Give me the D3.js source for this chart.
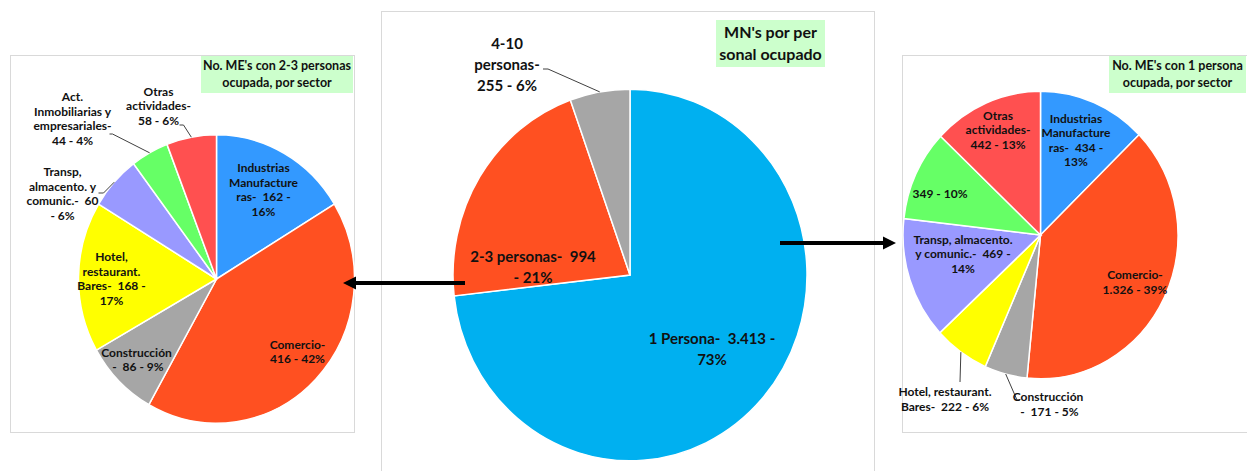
<!DOCTYPE html>
<html>
<head>
<meta charset="utf-8">
<script src="https://cdn.jsdelivr.net/npm/d3@7"></script>
<style>
  body { margin: 0; background: #fff; }
  svg { display: block; }
  text { font-family: Lato, "Open Sans", sans-serif; font-weight: bold; fill: #111; white-space: pre; }
</style>
</head>
<body>
<svg id="chart" width="1247" height="471"></svg>
<script>
// Microempresas (ME) por tamaño de personal ocupado
const sizeCats = ["1 Persona", "2-3 personas", "4-10 personas"];
const sizeValues = [3413, 994, 255];
const sizePct = [73, 21, 6];

// Sectores económicos
const sectors = [
  "Industrias Manufactureras",
  "Comercio",
  "Construcción",
  "Hotel, restaurant. Bares",
  "Transp, almacento. y comunic.",
  "Act. Inmobiliarias y empresariales",
  "Otras actividades"
];
// ME con 2-3 personas ocupadas, por sector
const values23 = [162, 416, 86, 168, 60, 44, 58];
const pct23 = [16, 42, 9, 17, 6, 4, 6];
// ME con 1 persona ocupada, por sector
const values1 = [434, 1326, 171, 222, 469, 349, 442];
const pct1 = [13, 39, 5, 6, 14, 10, 13];

const titleCenter = ["MN's por per", "sonal ocupado"];
const title23 = ["No. ME's con 2-3 personas", "ocupada, por sector"];
const title1 = ["No. ME's con 1 persona", "ocupada, por sector"];

// Number format with "." as thousands separator
const esFmt = d3.formatLocale({ decimal: ",", thousands: ".", grouping: [3], currency: ["", ""] }).format(",d");

const sizeColors = ["#00B0F0", "#FF5021", "#A6A6A6"];
const sectorColors = ["#3399FF", "#FF5021", "#A6A6A6", "#FFFF00", "#9999FF", "#66FF66", "#FF5050"];

// Label text broken into lines the way the data labels wrap
const sizeLines = [
  (v, p) => ["1 Persona-  " + v + " -", p + "%"],
  (v, p) => ["2-3 personas-  " + v, "- " + p + "%"],
  (v, p) => ["4-10", "personas-", v + " - " + p + "%"]
];
const lines23 = [
  (v, p) => ["Industrias", "Manufacture", "ras-  " + v + " -", p + "%"],
  (v, p) => ["Comercio-", v + " - " + p + "%"],
  (v, p) => ["Construcción", " -  " + v + " - " + p + "%"],
  (v, p) => ["Hotel,", "restaurant.", "Bares-  " + v + " -", p + "%"],
  (v, p) => ["Transp,", "almacento. y", "comunic.-  " + v, "- " + p + "%"],
  (v, p) => ["Act.", "Inmobiliarias y", "empresariales-", v + " - " + p + "%"],
  (v, p) => ["Otras", "actividades-", v + " - " + p + "%"]
];
const lines1 = [
  (v, p) => ["Industrias", "Manufacture", "ras-  " + v + " -", p + "%"],
  (v, p) => ["Comercio-", v + " - " + p + "%"],
  (v, p) => ["Construcción", " -  " + v + " - " + p + "%"],
  (v, p) => ["Hotel, restaurant.", "Bares-  " + v + " - " + p + "%"],
  (v, p) => ["Transp, almacento.", "y comunic.-  " + v + " -", p + "%"],
  (v, p) => [v + " - " + p + "%"],
  (v, p) => ["Otras", "actividades-", v + " - " + p + "%"]
];

// Layout: label block centres relative to pie centre, plus leader elbows
const layoutCenter = {
  cx: 630, cy: 275, r: 177, sy: 1.05, font: 15, lh: 21,
  labels: [
    { dx: 82, dy: 74 },
    { dx: -97, dy: -8 },
    { dx: -123, dy: -210, leader: [[-87, -206], [-82, -206]] }
  ]
};
const layout23 = {
  cx: 216.5, cy: 279, r: 138, sy: 1.045, font: 12, lh: 14.5,
  labels: [
    { dx: 47, dy: -89 },
    { dx: 81, dy: 73 },
    { dx: -80, dy: 81 },
    { dx: -105, dy: 0 },
    { dx: -154, dy: -85, leader: [[-118, -86], [-113, -86]] },
    { dx: -144, dy: -160, leader: [[-107, -145], [-104, -145]] },
    { dx: -58, dy: -173, leader: [[-37, -154], [-33, -154]] }
  ]
};
const layout1 = {
  cx: 1040.5, cy: 235, r: 137.5, sy: 1.045, font: 12, lh: 14.5,
  labels: [
    { dx: 35.5, dy: -94.5 },
    { dx: 94.5, dy: 47.5 },
    { dx: 7.5, dy: 169.5, leader: [[-20.5, 165], [-23.5, 165]] },
    { dx: -95.5, dy: 164.5, leader: [[-80.5, 147]] },
    { dx: -77.5, dy: 19 },
    { dx: -100.5, dy: -41 },
    { dx: -42.5, dy: -105 }
  ]
};

const svg = d3.select("#chart");

// Panel frames
function frame(x, y, w, h) {
  svg.append("rect").attr("x", x + 0.5).attr("y", y + 0.5).attr("width", w).attr("height", h)
    .attr("fill", "#fff").attr("stroke", "#D9D9D9").attr("stroke-width", 1);
}
frame(10, 55, 344, 377);
frame(381, 11, 493, 480);
frame(902, 55, 360, 377);

function title(lines, x, y, w, h, size, lh) {
  svg.append("rect").attr("x", x).attr("y", y).attr("width", w).attr("height", h).attr("fill", "#CCFFCC");
  const t = svg.append("text").attr("text-anchor", "middle").style("font-size", size + "px");
  lines.forEach((s, i) => {
    t.append("tspan").attr("x", x + w / 2).attr("y", y + h / 2 + (i - (lines.length - 1) / 2) * lh).attr("dy", "0.35em").text(s);
  });
}

function drawPie(values, pct, colors, lineFns, L) {
  const g = svg.append("g").attr("transform", `translate(${L.cx},${L.cy})`);
  const arcs = d3.pie().sort(null).value(d => d)(values);
  const arc = d3.arc().innerRadius(0).outerRadius(L.r);
  const edge = d3.arc().innerRadius(L.r).outerRadius(L.r);

  g.append("g").attr("transform", `scale(1,${L.sy})`)
    .selectAll("path").data(arcs).join("path")
    .attr("d", arc)
    .attr("fill", (d, i) => colors[i])
    .attr("stroke", "#fff")
    .attr("stroke-width", 1.5)
    .attr("vector-effect", "non-scaling-stroke");

  arcs.forEach((a, i) => {
    const lab = L.labels[i];
    if (lab.leader) {
      const e = edge.centroid(a);
      const pts = lab.leader.concat([[e[0], e[1] * L.sy]]);
      g.append("path").attr("d", d3.line()(pts))
        .attr("fill", "none").attr("stroke", "#404040").attr("stroke-width", 1);
    }
    const lines = lineFns[i](esFmt(values[i]), pct[i]);
    const t = g.append("text").attr("text-anchor", "middle").style("font-size", L.font + "px");
    lines.forEach((s, k) => {
      t.append("tspan").attr("x", lab.dx)
        .attr("y", lab.dy + (k - (lines.length - 1) / 2) * L.lh)
        .attr("dy", "0.35em").text(s);
    });
  });
}

drawPie(sizeValues, sizePct, sizeColors, sizeLines, layoutCenter);
drawPie(values23, pct23, sectorColors, lines23, layout23);
drawPie(values1, pct1, sectorColors, lines1, layout1);

title(titleCenter, 716, 20, 109, 47, 16, 22);
title(title23, 201, 56, 152, 37, 12.5, 17);
title(title1, 1109, 56, 137, 37, 12.5, 17);

// Arrows linking the centre pie to the detail pies
function arrow(x1, x2, y) {
  const dir = Math.sign(x2 - x1);
  const head = 13, half = 6.5;
  svg.append("line").attr("x1", x1).attr("y1", y).attr("x2", x2 - dir * head * 0.8).attr("y2", y)
    .attr("stroke", "#000").attr("stroke-width", 4);
  svg.append("path")
    .attr("d", `M${x2},${y} L${x2 - dir * head},${y - half} L${x2 - dir * head},${y + half} Z`)
    .attr("fill", "#000");
}
arrow(465, 343, 283);
arrow(780, 896, 243);
</script>
</body>
</html>
